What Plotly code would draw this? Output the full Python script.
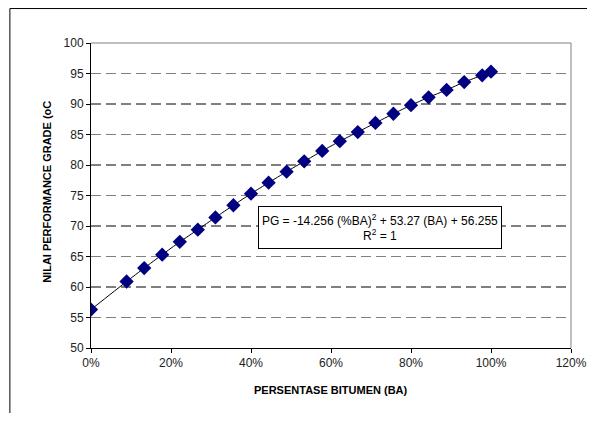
import plotly.graph_objects as go

# Data
ba_fraction = [0.0, 0.089, 0.133, 0.178, 0.222, 0.267, 0.311, 0.356, 0.400, 0.444, 0.489,
               0.533, 0.578, 0.622, 0.667, 0.711, 0.756, 0.800, 0.844, 0.889, 0.933, 0.978, 1.0]
pg_values = [56.3, 60.9, 63.1, 65.3, 67.4, 69.4, 71.4, 73.4, 75.3, 77.1, 78.9,
             80.6, 82.3, 83.9, 85.4, 86.9, 88.4, 89.8, 91.1, 92.3, 93.6, 94.7, 95.3]
x_ticks = [0, 0.2, 0.4, 0.6, 0.8, 1.0, 1.2]
x_tick_labels = ["0%", "20%", "40%", "60%", "80%", "100%", "120%"]
y_ticks = [50, 55, 60, 65, 70, 75, 80, 85, 90, 95, 100]
grid_values = [55, 60, 65, 70, 75, 80, 85, 90, 95]

FONT = "Liberation Sans, Arial, sans-serif"

fig = go.Figure()
fig.add_trace(go.Scatter(
    x=ba_fraction, y=pg_values, mode="lines+markers",
    line=dict(color="black", width=1, shape="spline", smoothing=0.6),
    marker=dict(symbol="diamond", size=11, color="#000080", line=dict(width=0)),
    showlegend=False, hoverinfo="x+y",
))

shapes = []
for v in grid_values:
    shapes.append(dict(type="line", xref="paper", yref="y", x0=0, x1=1, y0=v, y1=v,
                       line=dict(color="#808080" if v % 10 == 5 else "black", width=1,
                                 dash="10px,5px"), layer="below"))
# top and right plot borders (gray)
shapes.append(dict(type="line", xref="paper", yref="paper", x0=0, x1=1, y0=1, y1=1,
                   line=dict(color="#808080", width=1)))
shapes.append(dict(type="line", xref="paper", yref="paper", x0=1, x1=1, y0=0, y1=1,
                   line=dict(color="#808080", width=1)))
# outer frame (left and top edges visible)
shapes.append(dict(type="line", xref="paper", yref="paper", x0=-0.169, x1=-0.169, y0=-0.3, y1=1.113,
                   line=dict(color="black", width=1)))
shapes.append(dict(type="line", xref="paper", yref="paper", x0=-0.169, x1=1.1, y0=1.113, y1=1.113,
                   line=dict(color="black", width=1)))

annotations = [
    dict(x=0.7225, y=69.75, xref="x", yref="y", showarrow=False,
         xanchor="center", yanchor="middle",
         text="PG = -14.256 (%BA)<sup>2</sup> + 53.27 (BA) + 56.255<br>R<sup>2</sup> = 1",
         font=dict(family=FONT, size=12, color="black"), align="center",
         bordercolor="black", borderwidth=1, bgcolor="white", borderpad=2,
         width=238, height=37),
    dict(x=-0.0923, y=0.511, xref="paper", yref="paper", showarrow=False,
         xanchor="center", yanchor="middle",
         text="<b>NILAI PERFORMANCE GRADE (oC</b>", textangle=-90,
         font=dict(family=FONT, size=11, color="black")),
    dict(x=0.5, y=-0.1377, xref="paper", yref="paper", showarrow=False,
         xanchor="center", yanchor="middle",
         text="<b>PERSENTASE BITUMEN (BA)</b>",
         font=dict(family=FONT, size=11, color="black")),
]

# the page adds an 8px body margin, so the figure is offset by 8px
fig.update_layout(
    width=579, height=405,
    margin=dict(l=83, r=16, t=35, b=65, autoexpand=False),
    paper_bgcolor="white", plot_bgcolor="white",
    font=dict(family=FONT, size=12, color="black"),
    shapes=shapes, annotations=annotations,
    xaxis=dict(range=[0, 1.2], tickvals=x_ticks, ticktext=x_tick_labels, automargin=False,
               showgrid=False, zeroline=False, showline=True, linecolor="black", linewidth=1,
               ticks="outside", ticklen=4, tickcolor="black",
               tickfont=dict(family=FONT, size=12, color="#222")),
    yaxis=dict(range=[50, 100], tickvals=y_ticks, automargin=False,
               showgrid=False, zeroline=False, showline=True, linecolor="black", linewidth=1,
               ticks="outside", ticklen=4, tickcolor="black",
               tickfont=dict(family=FONT, size=12, color="#222")),
)

fig.write_html("out.html")
